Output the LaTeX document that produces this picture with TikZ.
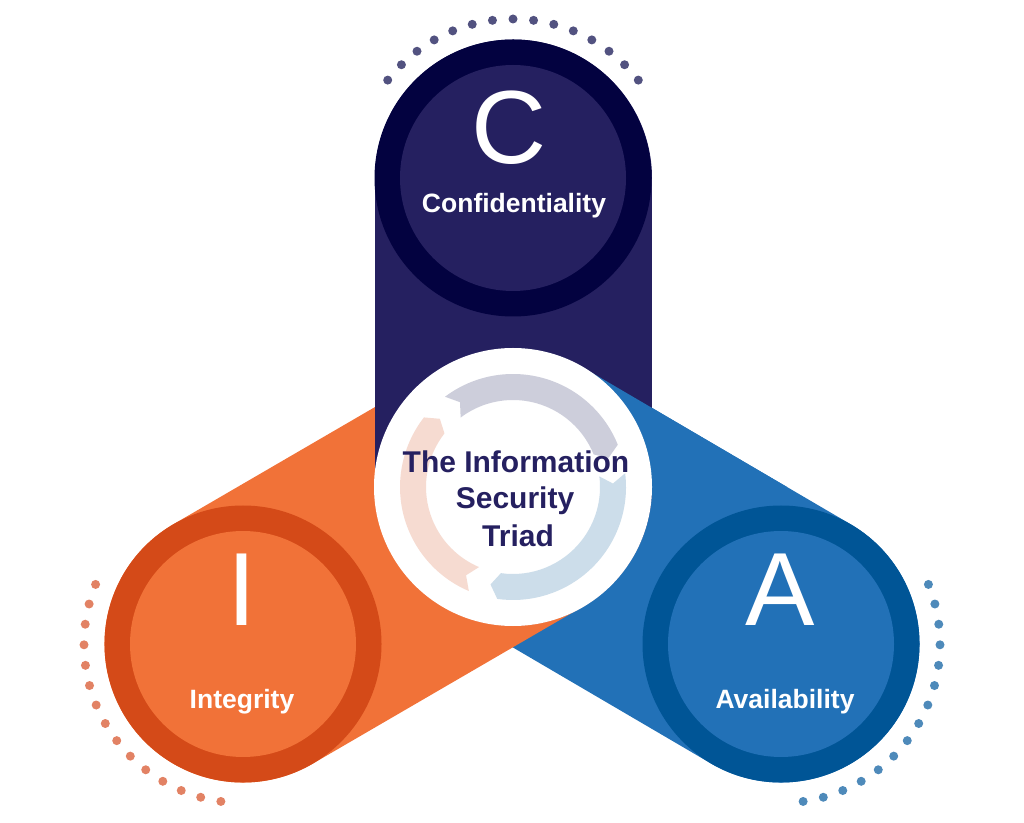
\documentclass[tikz,border=0pt]{standalone}
\usepackage{fontspec}
\setmainfont{Liberation Sans}
\definecolor{navyband}{RGB}{37,32,96}
\definecolor{navyring}{RGB}{3,2,64}
\definecolor{orangeband}{RGB}{241,114,56}
\definecolor{orangering}{RGB}{212,74,24}
\definecolor{blueband}{RGB}{34,113,183}
\definecolor{bluering}{RGB}{0,85,150}
\definecolor{topdot}{RGB}{82,82,128}
\definecolor{leftdot}{RGB}{226,130,100}
\definecolor{rightdot}{RGB}{78,138,186}
\definecolor{arrgray}{RGB}{205,206,219}
\definecolor{arrblue}{RGB}{204,221,234}
\definecolor{arrorange}{RGB}{246,219,209}
\begin{document}
\begin{tikzpicture}[x=1pt,y=1pt,
  band/.style={line width=277pt, line cap=round},
  disc/.style={circle, inner sep=0pt, minimum size=#1},
  letter/.style={anchor=base, text=white, font=\fontsize{104}{110}\selectfont},
  label/.style={anchor=base, text=white, font=\fontsize{26.5}{32}\selectfont\bfseries},
  hubtext/.style={anchor=base, text=navyband, font=\fontsize{30}{36}\selectfont\bfseries},
  dotmark/.style={radius=4.5}]
\useasboundingbox (0,0) rectangle (1024,822);
\coordinate (M) at (513,335);
\coordinate (C) at (513,644);
\coordinate (I) at (243,178);
\coordinate (A) at (781,178);
% bands (pinwheel overlap)
\draw[band, blueband] (M) -- (A);
\draw[band, orangeband] (M) -- (I);
\draw[band, navyband] (M) -- (C);
\begin{scope}
  \clip (M) rectangle (1024,822);
  \draw[band, blueband] (M) -- (A);
\end{scope}
% hub
\node[disc=278pt, fill=white] (hub) at (M) {};
\begin{scope}[shift={(M)}]
  \fill[arrgray] (127:113) arc[start angle=127, end angle=22, radius=113] -- (17:100) -- (22:87)
     arc[start angle=22, end angle=127, radius=87] -- (122:100) -- cycle;
  \fill[arrblue] (7:113) arc[start angle=7, end angle=-98, radius=113] -- (-103:100) -- (-98:87)
     arc[start angle=-98, end angle=7, radius=87] -- (2:100) -- cycle;
  \fill[arrorange] (247:113) arc[start angle=247, end angle=142, radius=113] -- (137:100) -- (142:87)
     arc[start angle=142, end angle=247, radius=87] -- (242:100) -- cycle;
\end{scope}
\node[hubtext] (t1) at (516,349) {The Information};
\node[hubtext] (t2) at (515,313) {Security};
\node[hubtext] (t3) at (518,276) {Triad};
% end circles
\node[disc=277pt, fill=navyring] (Cring) at (C) {};
\node[disc=226pt, fill=navyband] (Cin) at (C) {};
\node[disc=277pt, fill=orangering] (Iring) at (I) {};
\node[disc=226pt, fill=orangeband] (Iin) at (I) {};
\node[disc=277pt, fill=bluering] (Aring) at (A) {};
\node[disc=226pt, fill=blueband] (Ain) at (A) {};
% letters and labels
\node[letter] (Cl) at (509.5,658.5) {C};
\node[label] (Ct) at (514,609) {Confidentiality};
\node[letter] (Il) at (241.5,197) {I};
\node[label] (It) at (242,113.3) {Integrity};
\node[letter] (Al) at (780.5,197) {A};
\node[label] (At) at (785,113.3) {Availability};
% dots
\foreach \k in {0,...,14} {
  \fill[topdot, shift={(C)}] ({38+\k*104/14}:159) circle[dotmark];
  \fill[leftdot, shift={(I)}] ({158+\k*104/14}:159) circle[dotmark];
  \fill[rightdot, shift={(A)}] ({-82+\k*104/14}:159) circle[dotmark];
}
\end{tikzpicture}
\end{document}
